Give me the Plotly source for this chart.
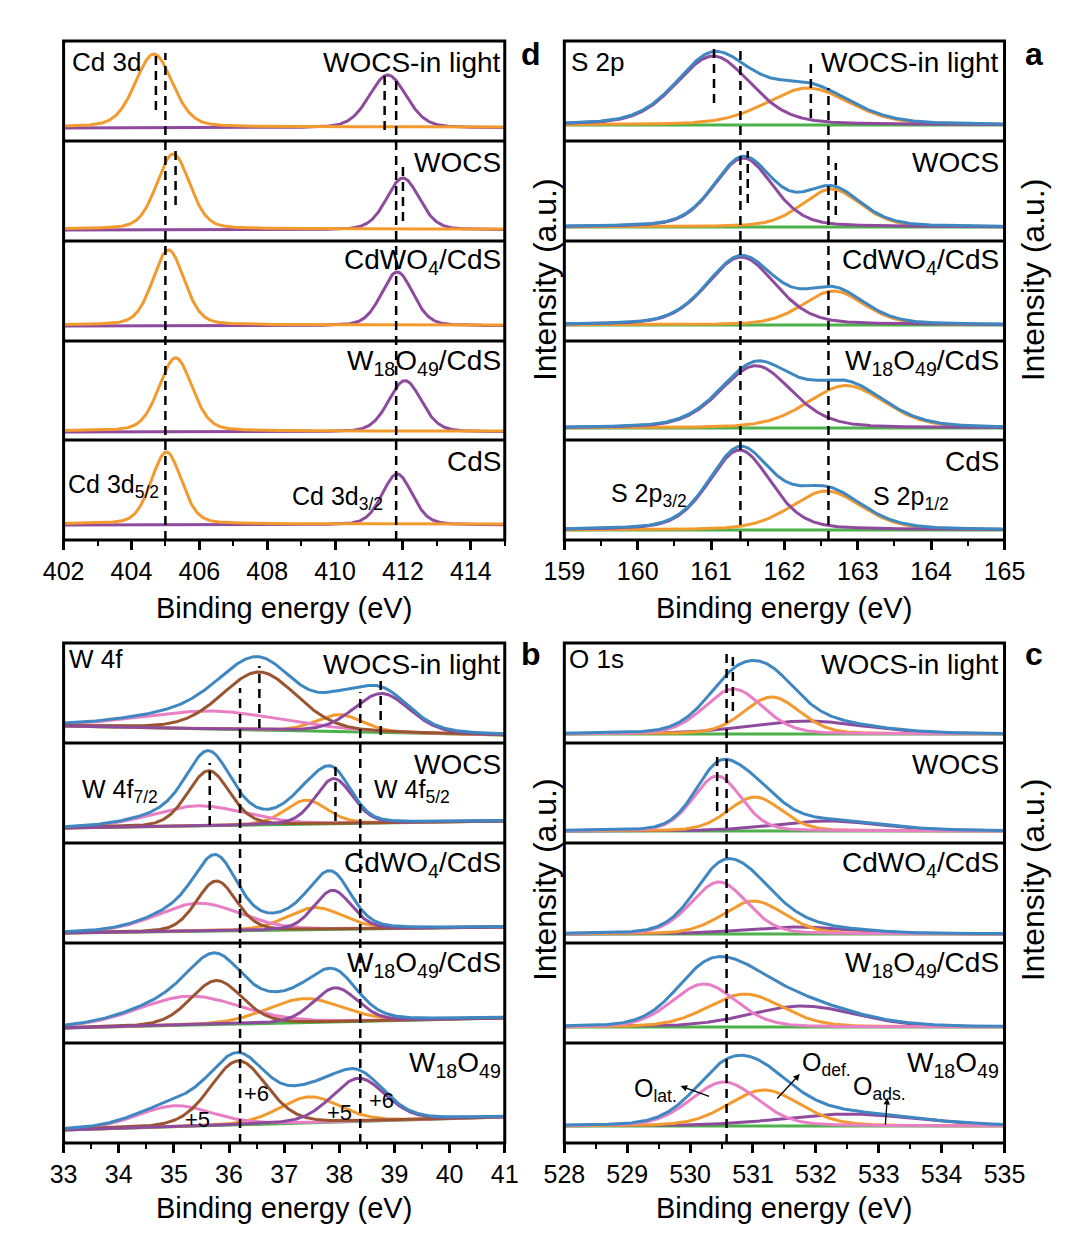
import numpy as np
import plotly.graph_objects as go

W, H = 1080, 1237

# ---------------- data ----------------
samples_top = ["WOCS-in light", "WOCS", "CdWO<sub>4</sub>/CdS", "W<sub>18</sub>O<sub>49</sub>/CdS", "CdS"]
samples_bottom = ["WOCS-in light", "WOCS", "CdWO<sub>4</sub>/CdS", "W<sub>18</sub>O<sub>49</sub>/CdS", "W<sub>18</sub>O<sub>49</sub>"]

# Cd 3d (panel top-left)
cd_range = [402, 415]
cd_base = [14, 12, 16, 9, 16]
cd_52_pos = [404.66, 405.23, 405.09, 405.30, 405.03]
cd_52_amp = [73, 75, 75, 74, 72]
cd_52_fwhm = [1.3, 1.15, 1.1, 1.15, 1.05]
cd_32_pos = [411.55, 412.00, 411.83, 412.06, 411.83]
cd_32_amp = [53, 52, 54, 52, 51]
cd_32_fwhm = [1.3, 1.15, 1.1, 1.15, 1.05]

# S 2p (panel top-right)
s_range = [159, 165]
s_base = [16, 14, 16, 12, 10]
s_32_pos = [161.03, 161.44, 161.41, 161.61, 161.39]
s_32_amp = [69, 69, 68, 63, 80]
s_32_fwhm = [1.2, 0.95, 1.1, 1.15, 1.0]
s_12_pos = [162.32, 162.64, 162.67, 162.84, 162.57]
s_12_amp = [37, 38, 34, 43, 39]
s_12_fwhm = [1.35, 0.95, 1.0, 1.25, 1.15]

# W 4f (panel bottom-left)
w_range = [33, 41]
w_base_lo = [17, 15, 10, 15, 13]
w_base_hi = [8, 22, 16, 25, 26]
w6_72_pos = [36.55, 35.63, 35.77, 35.77, 36.17]
w6_72_amp = [58, 55, 50, 44, 64]
w6_72_fwhm = [1.6, 0.9, 0.85, 1.1, 1.2]
w6_52_pos = [38.77, 37.90, 37.88, 37.93, 38.35]
w6_52_amp = [39, 45, 39, 34, 43]
w6_52_fwhm = [1.2, 0.8, 0.8, 0.95, 1.15]
w5_72_pos = [35.70, 35.45, 35.45, 35.28, 35.02]
w5_72_amp = [18, 20, 28, 29, 21]
w5_72_fwhm = [3.0, 2.0, 1.8, 2.2, 1.6]
w5_52_pos = [38.00, 37.40, 37.56, 37.37, 37.46]
w5_52_amp = [17, 24, 22, 24, 26]
w5_52_fwhm = [1.0, 0.9, 1.2, 1.6, 1.3]

# O 1s (panel bottom-right)
o_range = [528, 535]
o_base = [9, 12, 9, 16, 17]
olat_pos = [530.69, 530.43, 530.46, 530.22, 530.54]
olat_amp = [45, 55, 52, 43, 44]
olat_fwhm = [1.1, 0.9, 1.05, 1.2, 1.25]
odef_pos = [531.30, 531.03, 531.01, 530.87, 531.18]
odef_amp = [37, 34, 33, 33, 36]
odef_fwhm = [1.05, 1.0, 1.15, 1.4, 1.35]
oads_pos = [531.84, 532.20, 531.70, 531.79, 532.51]
oads_amp = [13, 10, 7, 21, 12]
oads_fwhm = [2.2, 2.0, 2.0, 2.0, 2.5]

# reference (dashed) energies
cd_ref = [405.0, 411.8]
s_ref = [161.4, 162.6]
w_ref = [36.2, 38.38]
o_ref = [530.58]
cd_short = [[404.72, 411.46], [405.30, 412.0]]
s_short = [[161.04, 162.36], [161.50, 162.70]]
w_short = [[36.55, 38.75], [35.65, 37.93]]
o_short = [[530.68], [530.43]]

# ---------------- styling ----------------
BLUE = "#3f87c0"
PURPLE = "#8e4b9e"
ORANGE = "#f29a2e"
GREEN = "#4db04a"
PINK = "#e87fc6"
BROWN = "#9a5530"
FONT = "Liberation Sans, Arial, sans-serif"
LW = 3

col_x = {"L": (36, 495), "R": (557, 1015)}
rows_top = [33, 133, 233, 333, 432, 532]
rows_bot = [635, 735, 835, 935, 1035, 1135]


def px_x(p):
    return p / W


def px_y(p):
    return 1 - p / H


def pv(x, c, w, a, eta):
    g = np.exp(-4 * np.log(2) * (x - c) ** 2 / w ** 2)
    l = 1 / (1 + 4 * (x - c) ** 2 / w ** 2)
    return a * ((1 - eta) * g + eta * l)


fig = go.Figure()
layout = {}
shapes = []
annotations = []

panels = [
    ("Cd", "L", rows_top, cd_range, 2),
    ("S", "R", rows_top, s_range, 1),
    ("W", "L", rows_bot, w_range, 1),
    ("O", "R", rows_bot, o_range, 1),
]


def add_line(k, x, y, color):
    fig.add_trace(go.Scatter(x=x, y=y, mode="lines", line=dict(color=color, width=LW),
                             xaxis="x%d" % k, yaxis="y%d" % k, showlegend=False, hoverinfo="skip"))


for pi, (name, col, rows, rng, dtick) in enumerate(panels):
    x0p, x1p = col_x[col]
    xs = np.linspace(rng[0], rng[1], 600)
    for r in range(5):
        k = pi * 5 + r + 1
        bottom = r == 4
        xa = dict(range=rng, domain=[px_x(x0p), px_x(x1p)], anchor="y%d" % k,
                  showline=False, showgrid=False, zeroline=False,
                  ticks="outside" if bottom else "", showticklabels=bottom)
        if bottom:
            xa.update(tick0=rng[0], dtick=dtick, ticklen=9, tickwidth=2.5, tickcolor="black",
                      tickfont=dict(family=FONT, size=25, color="black"),
                      minor=dict(ticks="outside", ticklen=5, tickwidth=2, tickcolor="black",
                                 dtick=dtick / 2, showgrid=False))
        ya = dict(range=[0, 100], domain=[px_y(rows[r + 1]), px_y(rows[r])], anchor="x%d" % k,
                  showline=False, showgrid=False, zeroline=False, ticks="", showticklabels=False)
        layout["xaxis%d" % k if k > 1 else "xaxis"] = xa
        layout["yaxis%d" % k if k > 1 else "yaxis"] = ya

        if name == "Cd":
            base = np.full_like(xs, cd_base[r])
            p1 = pv(xs, cd_52_pos[r], cd_52_fwhm[r], cd_52_amp[r], 0.25)
            p2 = pv(xs, cd_32_pos[r], cd_32_fwhm[r], cd_32_amp[r], 0.25)
            add_line(k, xs, base - 1 + p2, PURPLE)
            add_line(k, xs, base + p1, ORANGE)
        elif name == "S":
            base = np.full_like(xs, s_base[r])
            p1 = pv(xs, s_32_pos[r], s_32_fwhm[r], s_32_amp[r], 0.3)
            p2 = pv(xs, s_12_pos[r], s_12_fwhm[r], s_12_amp[r], 0.3)
            add_line(k, xs, base, GREEN)
            add_line(k, xs, base + p2, ORANGE)
            add_line(k, xs, base + p1, PURPLE)
            add_line(k, xs, base + p1 + p2, BLUE)
        elif name == "W":
            base = w_base_lo[r] + (w_base_hi[r] - w_base_lo[r]) * (xs - rng[0]) / (rng[1] - rng[0])
            a = pv(xs, w6_72_pos[r], w6_72_fwhm[r], w6_72_amp[r], 0.2)
            b = pv(xs, w6_52_pos[r], w6_52_fwhm[r], w6_52_amp[r], 0.2)
            c = pv(xs, w5_72_pos[r], w5_72_fwhm[r], w5_72_amp[r], 0.2)
            d = pv(xs, w5_52_pos[r], w5_52_fwhm[r], w5_52_amp[r], 0.2)
            add_line(k, xs, base, GREEN)
            add_line(k, xs, base + d, ORANGE)
            add_line(k, xs, base + c, PINK)
            add_line(k, xs, base + a, BROWN)
            add_line(k, xs, base + b, PURPLE)
            add_line(k, xs, base + a + b + c + d, BLUE)
        else:
            base = np.full_like(xs, o_base[r])
            a = pv(xs, olat_pos[r], olat_fwhm[r], olat_amp[r], 0.2)
            b = pv(xs, odef_pos[r], odef_fwhm[r], odef_amp[r], 0.2)
            c = pv(xs, oads_pos[r], oads_fwhm[r], oads_amp[r], 0.2)
            add_line(k, xs, base, GREEN)
            add_line(k, xs, base + c, PURPLE)
            add_line(k, xs, base + b, ORANGE)
            add_line(k, xs, base + a, PINK)
            add_line(k, xs, base + a + b + c, BLUE)

    # frame of the column
    shapes.append(dict(type="rect", xref="paper", yref="paper", x0=px_x(x0p), x1=px_x(x1p),
                       y0=px_y(rows[5]), y1=px_y(rows[0]), line=dict(color="black", width=3), layer="above"))
    for yb in rows[1:5]:
        shapes.append(dict(type="line", xref="paper", yref="paper", x0=px_x(x0p), x1=px_x(x1p),
                           y0=px_y(yb), y1=px_y(yb), line=dict(color="black", width=3), layer="above"))

DASH = "9px,6px"


def vline(k, x, ytop, ybot):
    shapes.append(dict(type="line", xref="x%d" % k if k > 1 else "x", yref="paper", x0=x, x1=x,
                       y0=px_y(ybot), y1=px_y(ytop), line=dict(color="black", width=2.5, dash=DASH),
                       layer="above"))


# long reference lines
vline(1, cd_ref[0], 45, 532)
vline(1, cd_ref[1], 68, 532)
vline(6, s_ref[0], 37, 532)
vline(6, s_ref[1], 80, 532)
vline(11, w_ref[0], 680, 1135)
vline(11, w_ref[1], 684, 1135)
vline(16, o_ref[0], 640, 1135)
# short lines in the first two rows
short_spans = {
    1: [[(45, 102), (65, 122)], [(142, 197), (155, 213)]],
    6: [[(38, 95), (53, 110)], [(143, 195), (155, 207)]],
    11: [[(658, 720), (667, 727)], [(755, 817), (753, 813)]],
    16: [[(643, 703)], [(743, 803)]],
}
short_vals = {1: cd_short, 6: s_short, 11: w_short, 16: o_short}
for k0, spans in short_spans.items():
    for r in range(2):
        for xv, (yt, yb) in zip(short_vals[k0][r], spans[r]):
            vline(k0, xv, yt, yb)


def ann(text, x, y, size, xanchor="center", bold=False, angle=0):
    annotations.append(dict(text="<b>%s</b>" % text if bold else text, x=px_x(x), y=px_y(y),
                            xref="paper", yref="paper", xanchor=xanchor, yanchor="middle",
                            showarrow=False, textangle=angle,
                            font=dict(family=FONT, size=size, color="black")))


# sample labels
for r in range(5):
    ann(samples_top[r], 1011, rows_top[r] + 21, 28, xanchor="right")
    ann(samples_top[r], 493, rows_top[r] + 21, 28, xanchor="right")
    ann(samples_bottom[r], 1011, rows_bot[r] + 21, 28, xanchor="right")
    ann(samples_bottom[r], 493, rows_bot[r] + 21, 28, xanchor="right")

ann("Cd 3d", 43, 54, 26, xanchor="left")
ann("S 2p", 562, 54, 26, xanchor="left")
ann("W 4f", 40, 651, 26, xanchor="left")
ann("O 1s", 560, 651, 26, xanchor="left")

ann("Cd 3d<sub>5/2</sub>", 88, 478, 25)
ann("Cd 3d<sub>3/2</sub>", 321, 490, 25)
ann("S 2p<sub>3/2</sub>", 645, 487, 25)
ann("S 2p<sub>1/2</sub>", 918, 490, 25)
ann("W 4f<sub>7/2</sub>", 95, 783, 25)
ann("W 4f<sub>5/2</sub>", 398, 783, 25)
ann("+5", 175, 1111, 22)
ann("+6", 237, 1085, 22)
ann("+5", 323, 1104, 22)
ann("+6", 367, 1092, 22)
ann("O<sub>lat.</sub>", 652, 1082, 25)
ann("O<sub>def.</sub>", 830, 1056, 25)
ann("O<sub>ads.</sub>", 885, 1080, 25)

# arrows (head, tail in px)
for (hx, hy), (tx, ty) in [((678, 1078), (708, 1089)), ((802, 1066), (778, 1092)), ((893, 1090), (891, 1118))]:
    annotations.append(dict(x=px_x(hx), y=px_y(hy), xref="paper", yref="paper", ax=tx - hx, ay=ty - hy,
                            axref="pixel", ayref="pixel", text="", showarrow=True, arrowhead=2,
                            arrowsize=1, arrowwidth=1.3, arrowcolor="black"))

for cx in (265.5, 786):
    ann("Binding energy (eV)", cx, 600, 29)
    ann("Binding energy (eV)", cx, 1200, 29)
for ix in (537, 1045):
    ann("Intensity (a.u.)", ix, 272, 32, angle=-90)
    ann("Intensity (a.u.)", ix, 872, 32, angle=-90)

ann("d", 522, 46, 32, bold=True)
ann("a", 1046, 46, 32, bold=True)
ann("b", 522, 646, 32, bold=True)
ann("c", 1046, 646, 32, bold=True)

fig.update_layout(width=W, height=H, margin=dict(l=0, r=0, t=0, b=0),
                  paper_bgcolor="white", plot_bgcolor="white", showlegend=False,
                  shapes=shapes, annotations=annotations, **layout)
fig.write_html("out.html")
